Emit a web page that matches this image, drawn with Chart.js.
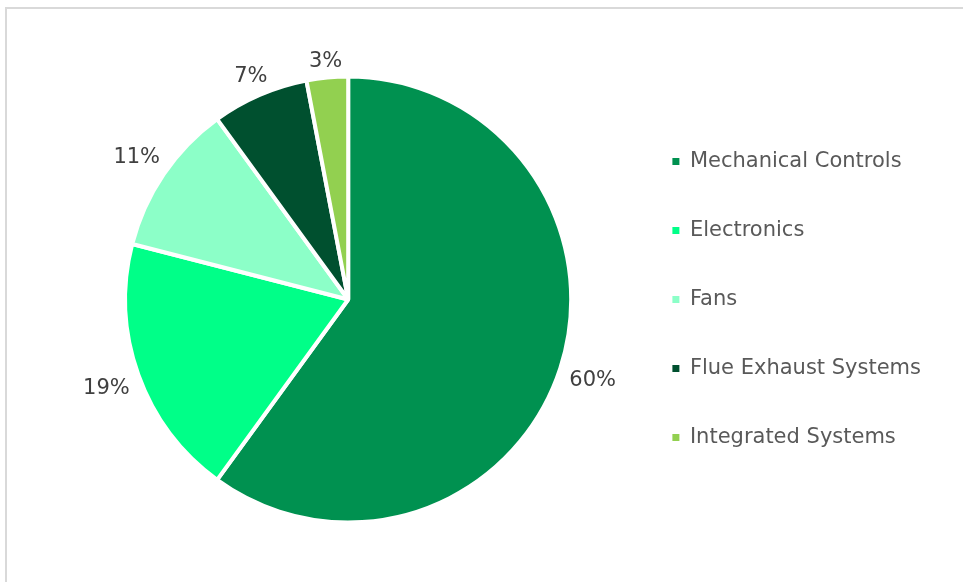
<!DOCTYPE html>
<html>
<head>
<meta charset="utf-8">
<script src="https://cdn.jsdelivr.net/npm/chart.js@4"></script>
<style>
    html, body { margin: 0; padding: 0; background: #ffffff; }
    #wrap { position: relative; width: 963px; height: 582px; overflow: hidden; }
    #frame {
        position: absolute; left: 5px; top: 7px; width: 1000px; height: 600px;
        border-top: 2px solid #d9d9d9; border-left: 2px solid #d9d9d9;
    }
    #pie { position: absolute; left: 0; top: 0; }
</style>
</head>
<body>
<div id="wrap">
    <div id="frame"></div>
    <canvas id="pie" width="963" height="582"></canvas>
</div>
<script>
const categories = ['Mechanical Controls', 'Electronics', 'Fans', 'Flue Exhaust Systems', 'Integrated Systems'];
const shares = [60, 19, 11, 7, 3];
const sliceColors = ['#009150', '#00ff88', '#8cffc8', '#00502f', '#92d050'];

const FONT = "'DejaVu Sans', Verdana, sans-serif";

// percentage labels placed just outside each slice
const outsideLabels = {
    id: 'outsideLabels',
    afterDatasetsDraw(chart) {
        const ctx = chart.ctx;
        const meta = chart.getDatasetMeta(0);
        const total = shares.reduce((a, b) => a + b, 0);
        ctx.save();
        ctx.font = '21px ' + FONT;
        ctx.fillStyle = '#404040';
        ctx.textAlign = 'center';
        ctx.textBaseline = 'middle';
        meta.data.forEach((arc, i) => {
            const {x, y, startAngle, endAngle, outerRadius} = arc.getProps(['x', 'y', 'startAngle', 'endAngle', 'outerRadius'], true);
            const mid = (startAngle + endAngle) / 2;
            const text = Math.round(shares[i] / total * 100) + '%';
            const w = ctx.measureText(text).width;
            const h = 12;
            const dx = Math.cos(mid), dy = Math.sin(mid);
            const dist = outerRadius + 10 + Math.abs(dx) * w / 2 + Math.abs(dy) * h / 2;
            ctx.fillText(text, x + dx * dist, y + dy * dist + 2);
        });
        ctx.restore();
    }
};

// legend squares without the white slice border on top
const legendLabels = (chart) => {
    return Chart.overrides.pie.plugins.legend.labels.generateLabels(chart).map(item => {
        item.lineWidth = 0;
        item.strokeStyle = item.fillStyle;
        return item;
    });
};

const pieConf = {
    type: 'pie',
    data: {
        labels: categories,
        datasets: [{
            data: shares,
            backgroundColor: sliceColors,
            borderColor: '#ffffff',
            borderWidth: 4,
            radius: 223,
        }]
    },
    options: {
        responsive: false,
        animation: false,
        layout: {
            padding: { left: 72, right: 32, top: 62, bottom: 45 }
        },
        plugins: {
            legend: {
                position: 'right',
                labels: {
                    boxWidth: 7,
                    boxHeight: 7,
                    padding: 48,
                    color: '#595959',
                    font: { family: FONT, size: 21 },
                    generateLabels: legendLabels
                }
            },
            tooltip: { enabled: false }
        }
    },
    plugins: [outsideLabels]
};

new Chart(document.getElementById('pie'), pieConf);
</script>
</body>
</html>
